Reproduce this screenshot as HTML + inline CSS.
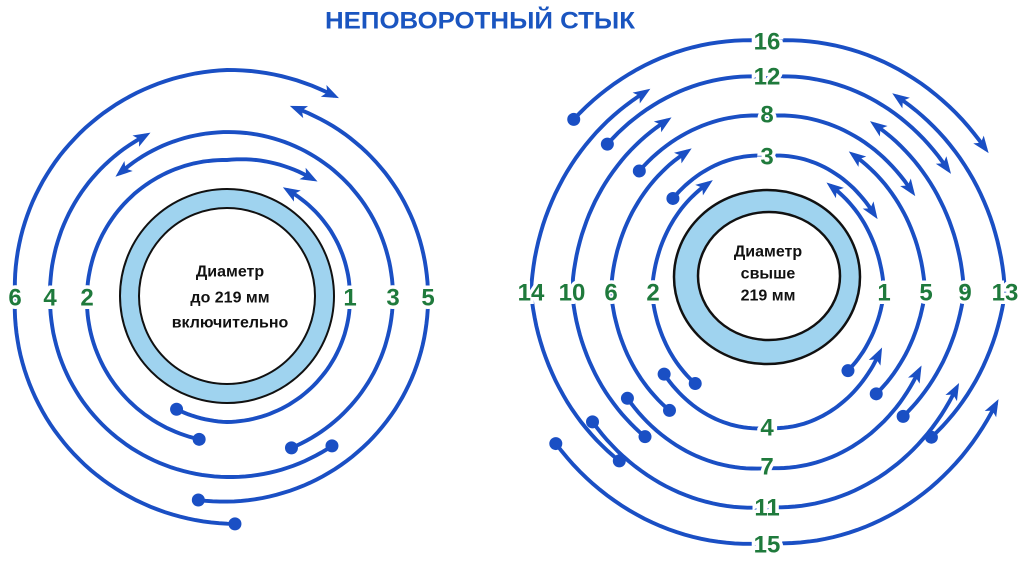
<!DOCTYPE html>
<html><head><meta charset="utf-8"><style>
html,body{margin:0;padding:0;background:#fff;width:1024px;height:588px;overflow:hidden}
svg{display:block}
.lb{font-family:"Liberation Sans",sans-serif;font-weight:bold;font-size:24px;fill:#1f7a3c;stroke:#fff;stroke-width:7px;paint-order:stroke;text-anchor:middle;dominant-baseline:central}
.ct{font-family:"Liberation Sans",sans-serif;font-weight:bold;font-size:16px;fill:#111;text-anchor:middle;dominant-baseline:central}
</style></head><body>
<svg id="s" width="1024" height="588" viewBox="0 0 1024 588" xmlns="http://www.w3.org/2000/svg">
<text x="480" y="21" font-family="Liberation Sans, sans-serif" font-weight="bold" font-size="24" fill="#1a55c0" text-anchor="middle" dominant-baseline="central" textLength="310" lengthAdjust="spacingAndGlyphs">НЕПОВОРОТНЫЙ СТЫК</text>
<circle cx="227" cy="296" r="97.5" fill="none" stroke="#9fd3ef" stroke-width="19"/>
<circle cx="227" cy="296" r="107" fill="none" stroke="#111" stroke-width="2"/>
<circle cx="227" cy="296" r="88" fill="none" stroke="#111" stroke-width="2"/>
<text class="ct" x="230" y="272">Диаметр</text>
<text class="ct" x="230" y="298">до 219 мм</text>
<text class="ct" x="230" y="323">включительно</text>
<ellipse cx="768" cy="276.5" rx="82" ry="75.5" fill="none" stroke="#9fd3ef" stroke-width="22"/>
<ellipse cx="767" cy="277" rx="93" ry="87" fill="none" stroke="#111" stroke-width="2.5"/>
<ellipse cx="769" cy="276" rx="71" ry="64" fill="none" stroke="#111" stroke-width="2.5"/>
<text class="ct" x="768" y="252">Диаметр</text>
<text class="ct" x="768" y="274">свыше</text>
<text class="ct" x="768" y="296">219 мм</text>
<g id="lines"></g>
<g id="labels">
<text class="lb" x="350" y="298">1</text><text class="lb" x="393" y="298">3</text><text class="lb" x="428" y="298">5</text>
<text class="lb" x="87" y="298">2</text><text class="lb" x="50" y="298">4</text><text class="lb" x="15" y="298">6</text>
<text class="lb" x="884" y="293">1</text><text class="lb" x="926" y="293">5</text><text class="lb" x="965" y="293">9</text><text class="lb" x="1005" y="293">13</text>
<text class="lb" x="653" y="293">2</text><text class="lb" x="611" y="293">6</text><text class="lb" x="572" y="293">10</text><text class="lb" x="531" y="293">14</text>
<text class="lb" x="767" y="157">3</text><text class="lb" x="767" y="115">8</text><text class="lb" x="767" y="77">12</text><text class="lb" x="767" y="42">16</text>
<text class="lb" x="767" y="428">4</text><text class="lb" x="767" y="467">7</text><text class="lb" x="767" y="508">11</text><text class="lb" x="767" y="545">15</text>
</g>
</svg>
<script>
var NS="http://www.w3.org/2000/svg",G=document.getElementById("lines"),C="#1a4fc4";
function el(n,a){var e=document.createElementNS(NS,n);for(var k in a)e.setAttribute(k,a[k]);G.appendChild(e);return e;}
function arc(cx,cy,rx,ry,pts){
  var P=[];
  for(var i=0;i<pts.length-1;i++){
    var t0=pts[i][0],s0=pts[i][1],t1=pts[i+1][0],s1=pts[i+1][1];
    var n=Math.max(2,Math.ceil(Math.abs(t1-t0)/2));
    for(var j=(i?1:0);j<=n;j++){
      var f=j/n,t=(t0+(t1-t0)*f)*Math.PI/180,s=s0+(s1-s0)*f;
      P.push([cx+rx*s*Math.cos(t),cy+ry*s*Math.sin(t)]);
    }
  }
  var L=P.length,a=P[L-1],b=P[L-3];
  var dx=a[0]-b[0],dy=a[1]-b[1],d=Math.hypot(dx,dy);dx/=d;dy/=d;
  var len=17,w=6.5;
  var tip=[a[0]+dx*6,a[1]+dy*6];
  var bx=tip[0]-dx*len,by=tip[1]-dy*len;
  el("polyline",{points:P.map(function(p){return p[0].toFixed(1)+","+p[1].toFixed(1)}).join(" "),fill:"none",stroke:C,"stroke-width":3.9,"stroke-linecap":"round"});
  el("polygon",{points:tip[0]+","+tip[1]+" "+(bx-dy*w)+","+(by+dx*w)+" "+(bx+dx*4)+","+(by+dy*4)+" "+(bx+dy*w)+","+(by-dx*w),fill:C});
  el("circle",{cx:P[0][0],cy:P[0][1],r:6.5,fill:C});
}
var L=[
 [[114,124],[90,126],[0,123],[-60,122]],
 [[101,146],[180,140],[270,136],[306,145]],
 [[67,165],[0,166],[-131,163]],
 [[55,183],[90,181],[180,177],[243,180]],
 [[98,206],[0,201],[-70,200]],
 [[88,228],[180,212],[270,226],[298,227]]
];
L.forEach(function(p){arc(227,296,1,1,p);});
[[116,136],[157,176],[196,215],[237,251]].forEach(function(r){
  var rx=r[0],ry=r[1],cx=768,cy=292;
  arc(cx,cy,rx,ry,[[40,0.9],[0,1],[-55,0.95]]);
  arc(cx,cy,rx,ry,[[-140,1.07],[-90,1],[-32,1.08]]);
  arc(cx,cy,rx,ry,[[133,0.92],[180,1],[237,0.95]]);
  arc(cx,cy,rx,ry,[[146,1.08],[90,1],[25,1.06]]);
});
</script>
</body></html>
